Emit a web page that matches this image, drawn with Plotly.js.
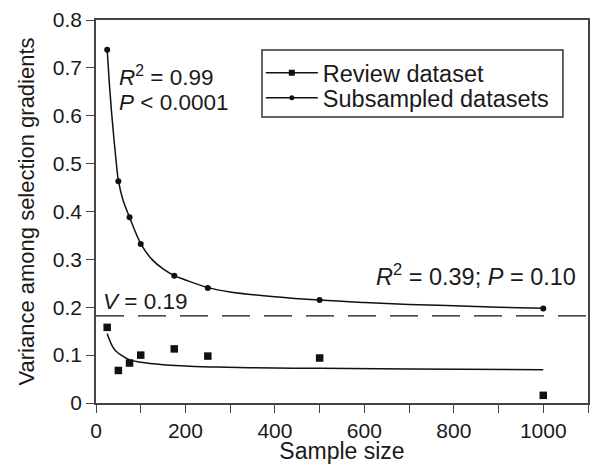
<!DOCTYPE html>
<html>
<head>
<meta charset="utf-8">
<script src="https://cdn.plot.ly/plotly-3.0.1.min.js"></script>
<style>html,body{margin:0;padding:0;background:#fff;}#chart{width:592px;height:464px;}</style>
</head>
<body>
<div id="chart"></div>
<script>
// Sample sizes of the datasets
const sampleSize = [25, 50, 75, 100, 175, 250, 500, 1000];
// Variance among selection gradients
const reviewVariance = [0.158, 0.068, 0.0835, 0.100, 0.113, 0.098, 0.094, 0.016];
const subsampledVariance = [0.738, 0.463, 0.388, 0.332, 0.266, 0.240, 0.215, 0.1975];

// Fitted curves
const upperFitX = [25, 30, 35, 40, 45, 50, 60, 75, 100, 125, 150, 175, 200, 250, 300, 400, 500, 600, 700, 800, 900, 1000];
const upperFitY = [0.738, 0.665, 0.605, 0.553, 0.505, 0.465, 0.425, 0.388, 0.333, 0.300, 0.280, 0.266, 0.257, 0.241, 0.232, 0.222, 0.215, 0.210, 0.206, 0.203, 0.200, 0.198];
const lowerFitX = [25, 30, 37, 45, 56, 75, 100, 150, 200, 270, 400, 500, 700, 1000];
const lowerFitY = [0.145, 0.132, 0.118, 0.108, 0.100, 0.090, 0.085, 0.080, 0.0775, 0.075, 0.073, 0.0725, 0.071, 0.0695];

// Reference line V
const vLine = 0.182;

const seriesNames = ['Review dataset', 'Subsampled datasets'];

const FONT = 'Liberation Sans, Arial, sans-serif';
const INK = '#111111';
const AX = '#444444';
const TXT = '#1a1a1a';

const traces = [
  {x: lowerFitX, y: lowerFitY, mode: 'lines', line: {color: INK, width: 1.5, shape: 'spline'}, showlegend: false, hoverinfo: 'skip'},
  {x: upperFitX, y: upperFitY, mode: 'lines', line: {color: INK, width: 1.5, shape: 'spline'}, showlegend: false, hoverinfo: 'skip'},
  {x: sampleSize, y: reviewVariance, mode: 'markers', marker: {symbol: 'square', size: 7.5, color: INK}, showlegend: false},
  {x: sampleSize, y: subsampledVariance, mode: 'markers', marker: {symbol: 'circle', size: 6, color: INK}, showlegend: false},
  {x: [null], y: [null], mode: 'lines+markers', name: seriesNames[0], legend: 'legend',
   line: {color: INK, width: 1.5}, marker: {symbol: 'square', size: 6, color: INK}},
  {x: [null], y: [null], mode: 'lines+markers', name: seriesNames[1], legend: 'legend2',
   line: {color: INK, width: 1.5}, marker: {symbol: 'circle', size: 5, color: INK}}
];

const annFont = {family: FONT, size: 22.5, color: TXT};
const legFont = {family: FONT, size: 23.5, color: TXT};

const legendCommon = {
  xanchor: 'left', yanchor: 'middle', font: legFont,
  borderwidth: 0, bgcolor: 'rgba(0,0,0,0)', itemwidth: 52
};

const layout = {
  width: 592, height: 464,
  margin: {l: 96, r: 4, t: 20, b: 61},
  paper_bgcolor: '#ffffff', plot_bgcolor: '#ffffff',
  font: {family: FONT, color: TXT},
  showlegend: true,
  legend: Object.assign({x: 0.335, y: 0.8617}, legendCommon),
  legend2: Object.assign({x: 0.335, y: 0.7965}, legendCommon),
  xaxis: {
    range: [0, 1100], tick0: 0, dtick: 200,
    ticks: 'outside', ticklen: 8, tickwidth: 1, tickcolor: AX,
    minor: {dtick: 100, tick0: 0, ticks: 'outside', ticklen: 8, tickcolor: AX, tickwidth: 1, showgrid: false},
    showline: true, linecolor: AX, linewidth: 1.8, mirror: true,
    showgrid: false, zeroline: false,
    tickfont: {family: FONT, size: 21, color: TXT},
    title: {text: 'Sample size', font: {family: FONT, size: 23, color: TXT}, standoff: 7}
  },
  yaxis: {
    range: [0, 0.8], tick0: 0, dtick: 0.1,
    ticks: 'outside', ticklen: 8, tickwidth: 1, tickcolor: AX,
    showline: true, linecolor: AX, linewidth: 1.8, mirror: true,
    showgrid: false, zeroline: false,
    tickfont: {family: FONT, size: 21, color: TXT},
    title: {text: 'Variance among selection gradients', font: {family: FONT, size: 22, color: TXT}, standoff: 12}
  },
  shapes: [
    {type: 'line', xref: 'paper', x0: 0, x1: 1, yref: 'y', y0: vLine, y1: vLine,
     line: {color: INK, width: 1.3, dash: '28px,14px'}},
    {type: 'rect', xref: 'paper', yref: 'paper', x0: 0.3374, x1: 0.949, y0: 0.747, y1: 0.9217,
     line: {color: '#333333', width: 1.5}, fillcolor: 'rgba(0,0,0,0)', layer: 'above'}
  ],
  annotations: [
    {xref: 'x', yref: 'y', x: 46, y: 0.683, xanchor: 'left', yanchor: 'middle', showarrow: false,
     text: '<i>R</i><sup>2</sup> = 0.99', font: annFont},
    {xref: 'x', yref: 'y', x: 46, y: 0.627, xanchor: 'left', yanchor: 'middle', showarrow: false,
     text: '<i>P</i> &lt; 0.0001', font: annFont},
    {xref: 'x', yref: 'y', x: 12, y: 0.212, xanchor: 'left', yanchor: 'middle', showarrow: false,
     text: '<i>V</i> = 0.19', font: annFont},
    {xref: 'x', yref: 'y', x: 1078, y: 0.268, xanchor: 'right', yanchor: 'middle', showarrow: false,
     text: '<i>R</i><sup>2</sup> = 0.39; <i>P</i> = 0.10', font: {family: FONT, size: 23.5, color: TXT}}
  ]
};

Plotly.newPlot('chart', traces, layout, {displayModeBar: false, staticPlot: true});
</script>
</body>
</html>
